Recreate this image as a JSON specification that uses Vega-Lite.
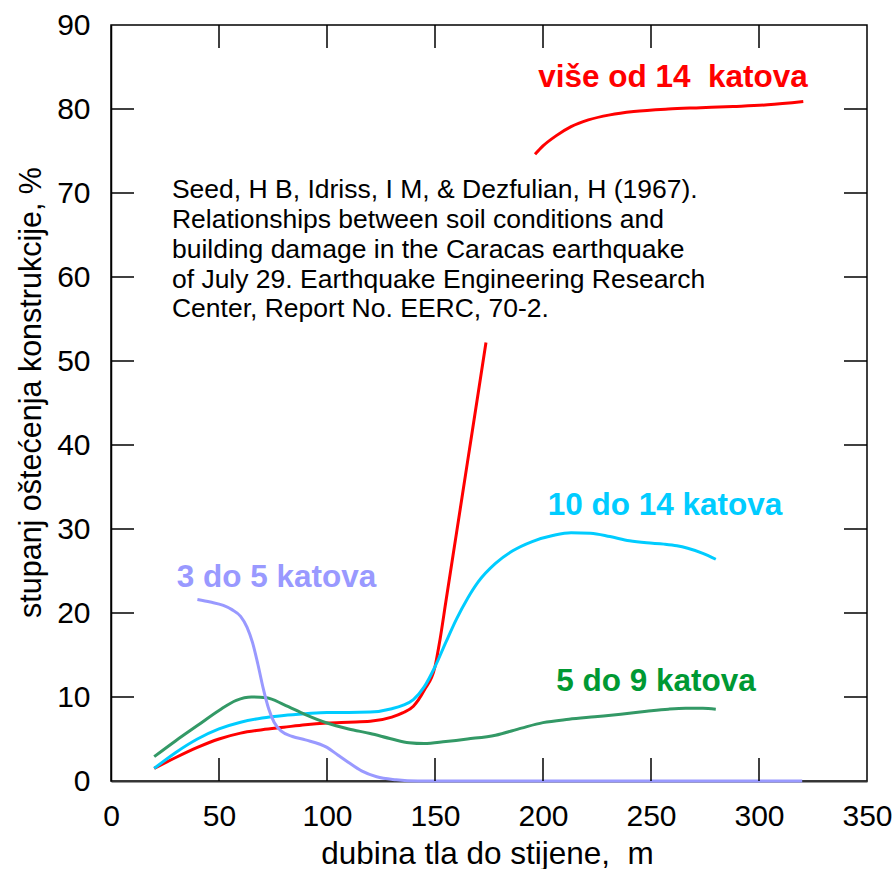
{
  "$schema": "https://vega.github.io/schema/vega-lite/v6.json",
  "width": 756,
  "height": 756,
  "autosize": "none",
  "padding": {"left": 111, "top": 25, "right": 29, "bottom": 88},
  "config": {
    "font": "Liberation Sans",
    "view": {"stroke": "#000000", "strokeWidth": 1.5}
  },
  "datasets": {
    "curves": [
      {"series": "više od 14 katova", "seg": "a", "depth": 20, "damage": 1.5},
      {"series": "više od 14 katova", "seg": "a", "depth": 30, "damage": 2.8},
      {"series": "više od 14 katova", "seg": "a", "depth": 40, "damage": 4.0},
      {"series": "više od 14 katova", "seg": "a", "depth": 50, "damage": 5.0},
      {"series": "više od 14 katova", "seg": "a", "depth": 60, "damage": 5.7},
      {"series": "više od 14 katova", "seg": "a", "depth": 70, "damage": 6.1},
      {"series": "više od 14 katova", "seg": "a", "depth": 80, "damage": 6.4},
      {"series": "više od 14 katova", "seg": "a", "depth": 90, "damage": 6.7},
      {"series": "više od 14 katova", "seg": "a", "depth": 100, "damage": 6.9},
      {"series": "više od 14 katova", "seg": "a", "depth": 110, "damage": 7.0},
      {"series": "više od 14 katova", "seg": "a", "depth": 120, "damage": 7.1},
      {"series": "više od 14 katova", "seg": "a", "depth": 130, "damage": 7.6},
      {"series": "više od 14 katova", "seg": "a", "depth": 135, "damage": 8.1},
      {"series": "više od 14 katova", "seg": "a", "depth": 140, "damage": 8.9},
      {"series": "više od 14 katova", "seg": "a", "depth": 145, "damage": 10.8},
      {"series": "više od 14 katova", "seg": "a", "depth": 150, "damage": 13.6},
      {"series": "više od 14 katova", "seg": "a", "depth": 152.3, "damage": 16.8},
      {"series": "više od 14 katova", "seg": "a", "depth": 155, "damage": 21.3},
      {"series": "više od 14 katova", "seg": "a", "depth": 160, "damage": 29.6},
      {"series": "više od 14 katova", "seg": "a", "depth": 165, "damage": 37.9},
      {"series": "više od 14 katova", "seg": "a", "depth": 170, "damage": 46.2},
      {"series": "više od 14 katova", "seg": "a", "depth": 173.6, "damage": 52.2},
      {"series": "više od 14 katova", "seg": "b", "depth": 196.3, "damage": 74.6},
      {"series": "više od 14 katova", "seg": "b", "depth": 200, "damage": 75.6},
      {"series": "više od 14 katova", "seg": "b", "depth": 206, "damage": 76.8},
      {"series": "više od 14 katova", "seg": "b", "depth": 213, "damage": 77.9},
      {"series": "više od 14 katova", "seg": "b", "depth": 221, "damage": 78.7},
      {"series": "više od 14 katova", "seg": "b", "depth": 231, "damage": 79.3},
      {"series": "više od 14 katova", "seg": "b", "depth": 242, "damage": 79.7},
      {"series": "više od 14 katova", "seg": "b", "depth": 258, "damage": 80.0},
      {"series": "više od 14 katova", "seg": "b", "depth": 273, "damage": 80.15},
      {"series": "više od 14 katova", "seg": "b", "depth": 288, "damage": 80.3},
      {"series": "više od 14 katova", "seg": "b", "depth": 304, "damage": 80.5},
      {"series": "više od 14 katova", "seg": "b", "depth": 320.5, "damage": 80.9},

      {"series": "10 do 14 katova", "seg": "a", "depth": 20, "damage": 1.5},
      {"series": "10 do 14 katova", "seg": "a", "depth": 30, "damage": 3.4},
      {"series": "10 do 14 katova", "seg": "a", "depth": 40, "damage": 5.0},
      {"series": "10 do 14 katova", "seg": "a", "depth": 50, "damage": 6.2},
      {"series": "10 do 14 katova", "seg": "a", "depth": 60, "damage": 7.0},
      {"series": "10 do 14 katova", "seg": "a", "depth": 70, "damage": 7.5},
      {"series": "10 do 14 katova", "seg": "a", "depth": 80, "damage": 7.8},
      {"series": "10 do 14 katova", "seg": "a", "depth": 90, "damage": 8.0},
      {"series": "10 do 14 katova", "seg": "a", "depth": 100, "damage": 8.15},
      {"series": "10 do 14 katova", "seg": "a", "depth": 110, "damage": 8.15},
      {"series": "10 do 14 katova", "seg": "a", "depth": 120, "damage": 8.2},
      {"series": "10 do 14 katova", "seg": "a", "depth": 130, "damage": 8.6},
      {"series": "10 do 14 katova", "seg": "a", "depth": 135, "damage": 9.0},
      {"series": "10 do 14 katova", "seg": "a", "depth": 140, "damage": 9.7},
      {"series": "10 do 14 katova", "seg": "a", "depth": 145, "damage": 11.2},
      {"series": "10 do 14 katova", "seg": "a", "depth": 150, "damage": 13.6},
      {"series": "10 do 14 katova", "seg": "a", "depth": 155, "damage": 16.5},
      {"series": "10 do 14 katova", "seg": "a", "depth": 160, "damage": 19.3},
      {"series": "10 do 14 katova", "seg": "a", "depth": 165, "damage": 21.7},
      {"series": "10 do 14 katova", "seg": "a", "depth": 170, "damage": 23.7},
      {"series": "10 do 14 katova", "seg": "a", "depth": 178, "damage": 25.9},
      {"series": "10 do 14 katova", "seg": "a", "depth": 186, "damage": 27.4},
      {"series": "10 do 14 katova", "seg": "a", "depth": 195, "damage": 28.5},
      {"series": "10 do 14 katova", "seg": "a", "depth": 205, "damage": 29.25},
      {"series": "10 do 14 katova", "seg": "a", "depth": 213, "damage": 29.55},
      {"series": "10 do 14 katova", "seg": "a", "depth": 222, "damage": 29.5},
      {"series": "10 do 14 katova", "seg": "a", "depth": 231, "damage": 29.1},
      {"series": "10 do 14 katova", "seg": "a", "depth": 240, "damage": 28.6},
      {"series": "10 do 14 katova", "seg": "a", "depth": 248, "damage": 28.35},
      {"series": "10 do 14 katova", "seg": "a", "depth": 256, "damage": 28.2},
      {"series": "10 do 14 katova", "seg": "a", "depth": 262, "damage": 28.0},
      {"series": "10 do 14 katova", "seg": "a", "depth": 267, "damage": 27.7},
      {"series": "10 do 14 katova", "seg": "a", "depth": 274, "damage": 27.1},
      {"series": "10 do 14 katova", "seg": "a", "depth": 280, "damage": 26.4},

      {"series": "5 do 9 katova", "seg": "a", "depth": 20, "damage": 2.9},
      {"series": "5 do 9 katova", "seg": "a", "depth": 30, "damage": 4.8},
      {"series": "5 do 9 katova", "seg": "a", "depth": 40, "damage": 6.6},
      {"series": "5 do 9 katova", "seg": "a", "depth": 50, "damage": 8.4},
      {"series": "5 do 9 katova", "seg": "a", "depth": 58, "damage": 9.6},
      {"series": "5 do 9 katova", "seg": "a", "depth": 65, "damage": 10.0},
      {"series": "5 do 9 katova", "seg": "a", "depth": 72, "damage": 9.9},
      {"series": "5 do 9 katova", "seg": "a", "depth": 80, "damage": 9.1},
      {"series": "5 do 9 katova", "seg": "a", "depth": 90, "damage": 7.9},
      {"series": "5 do 9 katova", "seg": "a", "depth": 100, "damage": 6.9},
      {"series": "5 do 9 katova", "seg": "a", "depth": 110, "damage": 6.2},
      {"series": "5 do 9 katova", "seg": "a", "depth": 120, "damage": 5.65},
      {"series": "5 do 9 katova", "seg": "a", "depth": 130, "damage": 5.0},
      {"series": "5 do 9 katova", "seg": "a", "depth": 138, "damage": 4.55},
      {"series": "5 do 9 katova", "seg": "a", "depth": 145, "damage": 4.45},
      {"series": "5 do 9 katova", "seg": "a", "depth": 155, "damage": 4.7},
      {"series": "5 do 9 katova", "seg": "a", "depth": 165, "damage": 5.0},
      {"series": "5 do 9 katova", "seg": "a", "depth": 178, "damage": 5.45},
      {"series": "5 do 9 katova", "seg": "a", "depth": 190, "damage": 6.3},
      {"series": "5 do 9 katova", "seg": "a", "depth": 200, "damage": 6.95},
      {"series": "5 do 9 katova", "seg": "a", "depth": 212, "damage": 7.35},
      {"series": "5 do 9 katova", "seg": "a", "depth": 224, "damage": 7.65},
      {"series": "5 do 9 katova", "seg": "a", "depth": 236, "damage": 7.95},
      {"series": "5 do 9 katova", "seg": "a", "depth": 248, "damage": 8.3},
      {"series": "5 do 9 katova", "seg": "a", "depth": 258, "damage": 8.55},
      {"series": "5 do 9 katova", "seg": "a", "depth": 266, "damage": 8.65},
      {"series": "5 do 9 katova", "seg": "a", "depth": 274, "damage": 8.65},
      {"series": "5 do 9 katova", "seg": "a", "depth": 280, "damage": 8.55},

      {"series": "3 do 5 katova", "seg": "a", "depth": 40, "damage": 21.6},
      {"series": "3 do 5 katova", "seg": "a", "depth": 46, "damage": 21.3},
      {"series": "3 do 5 katova", "seg": "a", "depth": 52, "damage": 20.9},
      {"series": "3 do 5 katova", "seg": "a", "depth": 56, "damage": 20.4},
      {"series": "3 do 5 katova", "seg": "a", "depth": 60, "damage": 19.6},
      {"series": "3 do 5 katova", "seg": "a", "depth": 63, "damage": 18.3},
      {"series": "3 do 5 katova", "seg": "a", "depth": 65.5, "damage": 16.5},
      {"series": "3 do 5 katova", "seg": "a", "depth": 68, "damage": 13.9},
      {"series": "3 do 5 katova", "seg": "a", "depth": 70.5, "damage": 11.0},
      {"series": "3 do 5 katova", "seg": "a", "depth": 73, "damage": 8.6},
      {"series": "3 do 5 katova", "seg": "a", "depth": 75.5, "damage": 7.0},
      {"series": "3 do 5 katova", "seg": "a", "depth": 79, "damage": 5.9},
      {"series": "3 do 5 katova", "seg": "a", "depth": 84, "damage": 5.3},
      {"series": "3 do 5 katova", "seg": "a", "depth": 90, "damage": 4.9},
      {"series": "3 do 5 katova", "seg": "a", "depth": 100, "damage": 4.0},
      {"series": "3 do 5 katova", "seg": "a", "depth": 105, "damage": 3.1},
      {"series": "3 do 5 katova", "seg": "a", "depth": 110, "damage": 2.2},
      {"series": "3 do 5 katova", "seg": "a", "depth": 116, "damage": 1.2},
      {"series": "3 do 5 katova", "seg": "a", "depth": 123, "damage": 0.5},
      {"series": "3 do 5 katova", "seg": "a", "depth": 132, "damage": 0.15},
      {"series": "3 do 5 katova", "seg": "a", "depth": 142, "damage": 0},
      {"series": "3 do 5 katova", "seg": "a", "depth": 200, "damage": 0},
      {"series": "3 do 5 katova", "seg": "a", "depth": 260, "damage": 0},
      {"series": "3 do 5 katova", "seg": "a", "depth": 320, "damage": 0}
    ],
    "labels": [
      {"series": "više od 14 katova", "label": "više od 14 \u00a0katova", "depth": 260.2, "damage": 82.6},
      {"series": "10 do 14 katova", "label": "10 do 14 katova", "depth": 256.5, "damage": 31.65},
      {"series": "3 do 5 katova", "label": "3 do 5 katova", "depth": 76.6, "damage": 23.1},
      {"series": "5 do 9 katova", "label": "5 do 9 katova", "depth": 252.3, "damage": 10.74}
    ],
    "note": [
      {"depth": 28.2, "damage": 69.36, "text": "Seed, H B, Idriss, I M, & Dezfulian, H (1967).\nRelationships between soil conditions and\nbuilding damage in the Caracas earthquake\nof July 29. Earthquake Engineering Research\nCenter, Report No. EERC, 70-2."}
    ],
    "ticks": [
      {"side": "x", "value": 50}, {"side": "x", "value": 100}, {"side": "x", "value": 150},
      {"side": "x", "value": 200}, {"side": "x", "value": 250}, {"side": "x", "value": 300},
      {"side": "y", "value": 10}, {"side": "y", "value": 20}, {"side": "y", "value": 30},
      {"side": "y", "value": 40}, {"side": "y", "value": 50}, {"side": "y", "value": 60},
      {"side": "y", "value": 70}, {"side": "y", "value": 80}
    ]
  },
  "layer": [
    {
      "data": {"name": "curves"},
      "mark": {"type": "line", "interpolate": "monotone", "strokeWidth": 3},
      "encoding": {
        "x": {
          "field": "depth", "type": "quantitative",
          "scale": {"domain": [0, 350], "nice": false, "zero": false},
          "axis": {
            "orient": "bottom",
            "grid": false,
            "tickCount": 7,
            "ticks": false,
            "tickSize": 0,
            "domainColor": "#333333",
            "domainWidth": 2,
            "labelPadding": 20,
            "labelFlush": false,
            "labelFont": "Liberation Sans",
            "labelFontSize": 30,
            "labelColor": "#000000",
            "title": "dubina tla do stijene, \u00a0m",
            "titleFont": "Liberation Sans",
            "titleFontSize": 31.5,
            "titleFontWeight": "normal",
            "titleColor": "#000000",
            "titleX": 376,
            "titleY": 82,
            "titleBaseline": "alphabetic",
            "titleAlign": "center"
          }
        },
        "y": {
          "field": "damage", "type": "quantitative",
          "scale": {"domain": [0, 90], "nice": false, "zero": false},
          "axis": {
            "orient": "left",
            "grid": false,
            "tickCount": 9,
            "ticks": false,
            "tickSize": 0,
            "domainColor": "#000000",
            "domainWidth": 1.5,
            "labelPadding": 21,
            "labelFlush": false,
            "labelFont": "Liberation Sans",
            "labelFontSize": 30,
            "labelColor": "#000000",
            "title": "stupanj oštećenja konstrukcije, %",
            "titleFont": "Liberation Sans",
            "titleFontSize": 30.5,
            "titleFontWeight": "normal",
            "titleColor": "#000000",
            "titleAngle": -90,
            "titleX": -71,
            "titleY": 367,
            "titleBaseline": "alphabetic",
            "titleAlign": "center"
          }
        },
        "color": {
          "field": "series", "type": "nominal",
          "scale": {
            "domain": ["više od 14 katova", "10 do 14 katova", "5 do 9 katova", "3 do 5 katova"],
            "range": ["#FF0000", "#00CCFF", "#339966", "#9999FF"]
          },
          "legend": null
        },
        "detail": {"field": "seg", "type": "nominal"}
      }
    },
    {
      "data": {"name": "ticks"},
      "transform": [{"filter": "datum.side === 'x'"}],
      "mark": {"type": "rule", "color": "#000000", "strokeWidth": 1.5},
      "encoding": {
        "x": {"field": "value", "type": "quantitative", "axis": null},
        "y": {"datum": 0, "type": "quantitative", "axis": null},
        "y2": {"datum": 2.74}
      }
    },
    {
      "data": {"name": "ticks"},
      "transform": [{"filter": "datum.side === 'x'"}],
      "mark": {"type": "rule", "color": "#000000", "strokeWidth": 1.5},
      "encoding": {
        "x": {"field": "value", "type": "quantitative", "axis": null},
        "y": {"datum": 90, "type": "quantitative", "axis": null},
        "y2": {"datum": 87.26}
      }
    },
    {
      "data": {"name": "ticks"},
      "transform": [{"filter": "datum.side === 'y'"}],
      "mark": {"type": "rule", "color": "#000000", "strokeWidth": 1.5},
      "encoding": {
        "y": {"field": "value", "type": "quantitative", "axis": null},
        "x": {"datum": 0, "type": "quantitative", "axis": null},
        "x2": {"datum": 10.65}
      }
    },
    {
      "data": {"name": "ticks"},
      "transform": [{"filter": "datum.side === 'y'"}],
      "mark": {"type": "rule", "color": "#000000", "strokeWidth": 1.5},
      "encoding": {
        "y": {"field": "value", "type": "quantitative", "axis": null},
        "x": {"datum": 350, "type": "quantitative", "axis": null},
        "x2": {"datum": 339.35}
      }
    },
    {
      "data": {"name": "labels"},
      "mark": {"type": "text", "font": "Liberation Sans", "fontSize": 31.5, "fontWeight": "bold", "align": "center", "baseline": "alphabetic"},
      "encoding": {
        "x": {"field": "depth", "type": "quantitative", "axis": null},
        "y": {"field": "damage", "type": "quantitative", "axis": null},
        "text": {"field": "label", "type": "nominal"},
        "color": {
          "field": "series", "type": "nominal",
          "scale": {
            "domain": ["više od 14 katova", "10 do 14 katova", "5 do 9 katova", "3 do 5 katova"],
            "range": ["#FF0000", "#00CCFF", "#009933", "#9999FF"]
          },
          "legend": null
        }
      }
    },
    {
      "data": {"name": "note"},
      "mark": {"type": "text", "font": "Liberation Sans", "fontSize": 26.5, "align": "left", "baseline": "alphabetic", "lineBreak": "\n", "lineHeight": 29.75, "color": "#000000"},
      "encoding": {
        "x": {"field": "depth", "type": "quantitative", "axis": null},
        "y": {"field": "damage", "type": "quantitative", "axis": null},
        "text": {"field": "text", "type": "nominal"}
      }
    }
  ],
  "resolve": {
    "scale": {"color": "independent"},
    "axis": {"x": "independent", "y": "independent"}
  }
}
